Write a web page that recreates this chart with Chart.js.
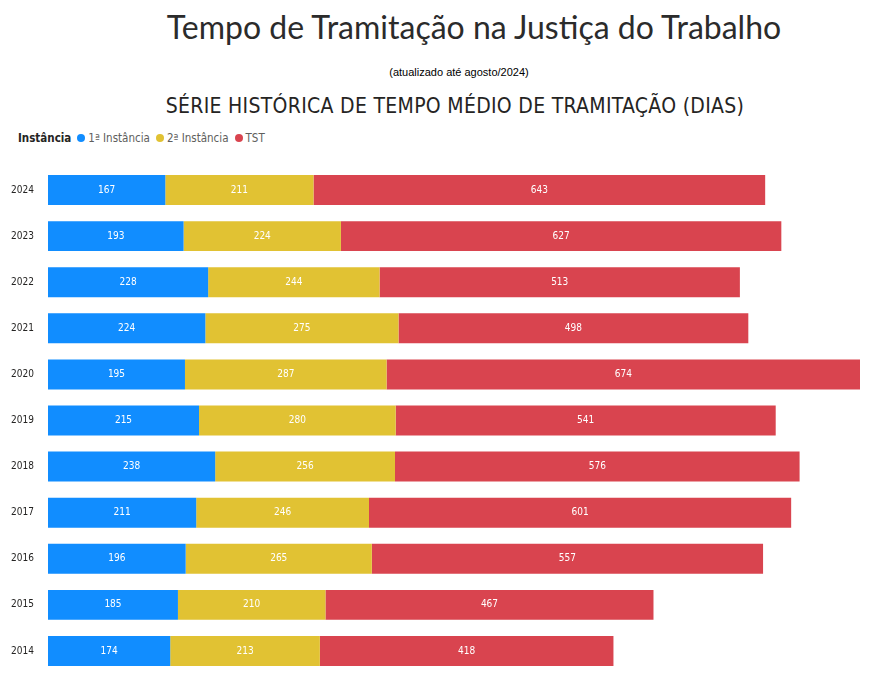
<!DOCTYPE html>
<html><head><meta charset="utf-8">
<script src="https://cdn.jsdelivr.net/npm/chart.js@4.4.0/dist/chart.umd.min.js"></script>
<style>
body{margin:0;width:880px;height:676px;background:#fff;font-family:"Segoe UI",Lato,sans-serif;position:relative;overflow:hidden}
#t1{position:absolute;top:7px;left:0;width:948px;text-align:center;font-family:Lato,sans-serif;font-size:32px;color:#2b2b2b}
#t2{position:absolute;top:66px;left:0;width:918px;text-align:center;font-family:"Liberation Sans",Arial;font-size:11px;color:#000}
#t3{position:absolute;top:94px;left:0;width:910px;text-align:center;font-family:"DejaVu Sans Condensed","DejaVu Sans";font-size:21px;color:#252423;letter-spacing:0.3px}
#leg{position:absolute;top:131px;left:18px;font-family:"DejaVu Sans Condensed","DejaVu Sans";font-size:11.5px;color:#605e5c}
#leg b{color:#252423;margin-right:6px}
.d{display:inline-block;width:8px;height:8px;border-radius:50%;margin:0 3px 0 0;vertical-align:0px}
.it{margin-right:6px}
#wrap{position:absolute;top:155px;left:0;width:860px;height:531px}
</style></head><body>
<div id="t1">Tempo de Tramitação na Justiça do Trabalho</div>
<div id="t2">(atualizado até agosto/2024)</div>
<div id="t3">SÉRIE HISTÓRICA DE TEMPO MÉDIO DE TRAMITAÇÃO (DIAS)</div>
<div id="leg"><b>Instância</b><span class="it"><span class="d" style="background:#118DFF"></span>1ª Instância</span><span class="it"><span class="d" style="background:#E1C233"></span>2ª Instância</span><span class="it"><span class="d" style="background:#D9444F"></span>TST</span></div>
<div id="wrap"><canvas id="c"></canvas></div>
<script>
const years=["2024","2023","2022","2021","2020","2019","2018","2017","2016","2015","2014"];
const inst1=[167,193,228,224,195,215,238,211,196,185,174];
const inst2=[211,224,244,275,287,280,256,246,265,210,213];
const tst=[643,627,513,498,674,541,576,601,557,467,418];
const labelsPlugin={id:'lbl',afterDatasetsDraw(ch){const ctx=ch.ctx;ctx.save();ctx.fillStyle='#fff';ctx.font='10px "DejaVu Sans Condensed","DejaVu Sans"';ctx.textAlign='center';ctx.textBaseline='middle';
ch.data.datasets.forEach((ds,i)=>{ch.getDatasetMeta(i).data.forEach((b,j)=>{const x=(b.x+b.base)/2;ctx.fillText(ds.data[j],x,b.y);});});ctx.restore();}};
new Chart(document.getElementById('c'),{type:'bar',
data:{labels:years,datasets:[
{label:'1ª Instância',data:inst1,backgroundColor:'#118DFF'},
{label:'2ª Instância',data:inst2,backgroundColor:'#E1C233'},
{label:'TST',data:tst,backgroundColor:'#D9444F'}]},
options:{indexAxis:'y',responsive:true,maintainAspectRatio:false,animation:false,
categoryPercentage:0.65,barPercentage:1,
layout:{padding:0},
plugins:{legend:{display:false},tooltip:{enabled:false}},
scales:{x:{stacked:true,display:false,min:0,max:1156},
y:{stacked:true,grid:{display:false},border:{display:false},
ticks:{color:'#252423',font:{size:10,family:'"DejaVu Sans Condensed","DejaVu Sans"'},padding:6},
afterFit(s){s.width=48;}}}},
plugins:[labelsPlugin]});
</script></body></html>
